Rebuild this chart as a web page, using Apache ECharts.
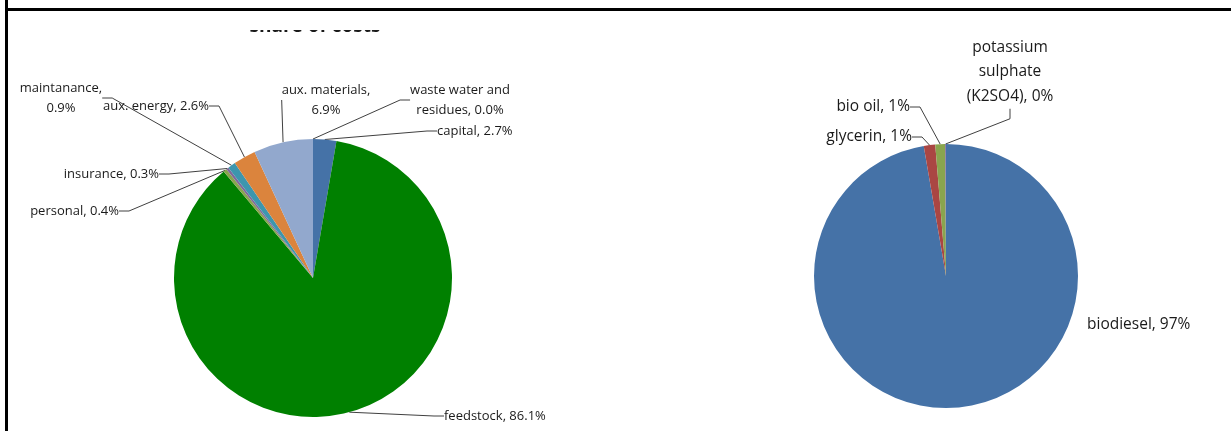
<!DOCTYPE html>
<html>
<head>
<meta charset="utf-8">
<script src="https://cdn.jsdelivr.net/npm/echarts@6/dist/echarts.min.js"></script>
<style>
html,body{margin:0;padding:0;background:#fff;}
#chart{width:1231px;height:431px;}
</style>
</head>
<body>
<div id="chart"></div>
<script>
// ---- data ----
const costNames = ['capital', 'feedstock', 'personal', 'insurance', 'maintanance', 'aux. energy', 'aux. materials', 'waste water and residues'];
const costValues = [2.7, 86.1, 0.4, 0.3, 0.9, 2.6, 6.9, 0.0];
const costColors = ['#4572A7', '#008000', '#89A54E', '#80699B', '#3D96AE', '#DB843D', '#92A8CD', '#A47D7C'];

const productNames = ['biodiesel', 'glycerin', 'bio oil', 'potassium sulphate (K2SO4)'];
const productValues = [97.3, 1.4, 1.2, 0.1];
const productColors = ['#4572A7', '#AA4643', '#89A54E', '#80699B'];

const titleText = 'share of costs';

// ---- label layout (positions only) ----
const costLabelText = {
  'maintanance': v => 'maintanance,\n' + v,
  'aux. materials': v => 'aux. materials,\n' + v,
  'waste water and residues': v => 'waste water and\nresidues, ' + v
};
const costLabelPos = {
  'capital': [437, 131, 'left'],
  'feedstock': [444, 416, 'left'],
  'personal': [119, 211, 'right'],
  'insurance': [159, 174, 'right'],
  'maintanance': [61, 98, 'center'],
  'aux. energy': [209, 106, 'right'],
  'aux. materials': [326, 100, 'center'],
  'waste water and residues': [460, 100, 'center']
};
const productLabelText = {
  'potassium sulphate (K2SO4)': v => 'potassium\nsulphate\n(K2SO4), ' + v
};
const productLabelPos = {
  'biodiesel': [1087, 325, 'left'],
  'glycerin': [912, 137, 'right'],
  'bio oil': [910, 107, 'right'],
  'potassium sulphate (K2SO4)': [1010, 72, 'center']
};

const chart = echarts.init(document.getElementById('chart'));
const font = '"Open Sans", "Noto Sans", sans-serif';

function makeLayout(names, posMap) {
  return function (params) {
    const p = posMap[names[params.dataIndex]];
    return { x: p[0], y: p[1], align: p[2], verticalAlign: 'middle' };
  };
}

chart.setOption({
  animation: false,
  backgroundColor: '#fff',
  graphic: [
    { type: 'text', x: 315, y: 36, z: 5, style: { text: titleText, align: 'center', verticalAlign: 'bottom', font: 'bold 19px ' + font, fill: '#1a1a1a' } },
    { type: 'rect', x: 0, y: 0, z: 50, shape: { x: 200, y: 11, width: 240, height: 19 }, style: { fill: '#ffffff' } },
    { type: 'rect', z: 60, shape: { x: 5, y: 8, width: 1226, height: 3 }, style: { fill: '#000' } },
    { type: 'rect', z: 60, shape: { x: 5, y: 0, width: 3, height: 431 }, style: { fill: '#000' } }
  ],
  series: [
    {
      type: 'pie',
      center: [313, 278],
      radius: 139,
      startAngle: 90,
      clockwise: true,
      avoidLabelOverlap: false,
      data: costNames.map((n, i) => ({ name: n, value: costValues[i], itemStyle: { color: costColors[i] } })),
      label: {
        show: true,
        fontFamily: font,
        fontSize: 13,
        lineHeight: 20,
        color: '#1a1a1a',
        formatter: p => {
          const v = p.value.toFixed(1) + '%';
          return costLabelText[p.name] ? costLabelText[p.name](v) : p.name + ', ' + v;
        }
      },
      labelLine: { show: true, length: 10, length2: 10, lineStyle: { color: '#404040', width: 1 } },
      labelLayout: makeLayout(costNames, costLabelPos),
      emphasis: { disabled: true }
    },
    {
      type: 'pie',
      center: [946, 276],
      radius: 132,
      startAngle: 90,
      clockwise: true,
      avoidLabelOverlap: false,
      data: productNames.map((n, i) => ({
        name: n, value: productValues[i], itemStyle: { color: productColors[i] },
        labelLine: { show: i !== 0 }
      })),
      label: {
        show: true,
        fontFamily: font,
        fontSize: 15.5,
        lineHeight: 24.5,
        color: '#1a1a1a',
        formatter: p => {
          const v = Math.round(p.value) + '%';
          return productLabelText[p.name] ? productLabelText[p.name](v) : p.name + ', ' + v;
        }
      },
      labelLine: { show: true, length: 10, length2: 10, lineStyle: { color: '#404040', width: 1 } },
      labelLayout: makeLayout(productNames, productLabelPos),
      emphasis: { disabled: true }
    }
  ]
});
</script>
</body>
</html>
